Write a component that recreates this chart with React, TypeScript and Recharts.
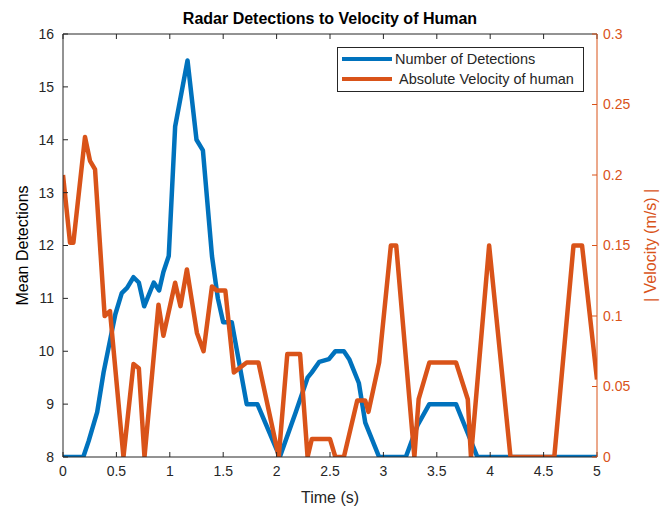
import { LineChart, Line, XAxis, YAxis, Legend, Label } from "recharts";

// mean detections per frame (left axis)
const detTime = [
  0, 0.19, 0.24, 0.32, 0.38, 0.44, 0.49, 0.55, 0.6, 0.66, 0.71, 0.76, 0.85,
  0.9, 0.94, 0.99, 1.05, 1.166, 1.25, 1.31, 1.395, 1.45, 1.5, 1.58, 1.72, 1.82,
  2.03, 2.18, 2.29, 2.33, 2.4, 2.49, 2.55, 2.63, 2.68, 2.77, 2.83, 2.96, 3.21,
  3.32, 3.43, 3.68, 3.88, 5,
];
const detMean = [
  8, 8, 8.3, 8.85, 9.6, 10.2, 10.7, 11.1, 11.2, 11.4, 11.3, 10.85, 11.3, 11.15,
  11.5, 11.8, 14.25, 15.5, 14.0, 13.8, 11.8, 11.0, 10.55, 10.55, 9.0, 9.0, 8,
  8.85, 9.5, 9.6, 9.8, 9.85, 10.0, 10.0, 9.85, 9.4, 8.65, 8, 8, 8.6, 9.0, 9.0,
  8, 8,
];

// |velocity| of the person (right axis)
const velTime = [
  0, 0.066, 0.097, 0.206, 0.253, 0.3, 0.39, 0.44, 0.566, 0.66, 0.71, 0.763,
  0.894, 0.94, 1.05, 1.1, 1.16, 1.254, 1.316, 1.395, 1.44, 1.52, 1.6, 1.72,
  1.83, 2.02, 2.1, 2.22, 2.29, 2.33, 2.5, 2.55, 2.63, 2.755, 2.83, 2.86, 2.96,
  3.07, 3.12, 3.29, 3.33, 3.43, 3.68, 3.79, 3.82, 3.99, 4.19, 4.6, 4.78, 4.86,
  5,
];
const velAbs = [
  0.2, 0.152, 0.152, 0.227, 0.21, 0.204, 0.1, 0.1035, 0, 0.066, 0.063, 0,
  0.108, 0.086, 0.1236, 0.107, 0.133, 0.088, 0.075, 0.121, 0.118, 0.118, 0.06,
  0.067, 0.067, 0, 0.073, 0.073, 0, 0.0127, 0.0127, 0, 0, 0.04, 0.04, 0.032,
  0.067, 0.15, 0.15, 0, 0.041, 0.067, 0.067, 0.041, 0, 0.15, 0, 0, 0.15, 0.15,
  0.055,
];

const seriesNames = ["Number of Detections", "Absolute Velocity of human"];
const timeTicks = [0, 0.5, 1, 1.5, 2, 2.5, 3, 3.5, 4, 4.5, 5];
const detTicks = [8, 9, 10, 11, 12, 13, 14, 15, 16];
const velTicks = [0, 0.05, 0.1, 0.15, 0.2, 0.25, 0.3];

const BLUE = "#0072BD";
const ORANGE = "#D95319";
const AXIS = "#262626";
const FONT = "'Liberation Sans', Arial, Helvetica, sans-serif";

const detData = detTime.map((t, i) => ({ t, mean: detMean[i] }));
const velData = velTime.map((t, i) => ({ t, speed: velAbs[i] }));

// boxed legend in plot order (recharts sorts entries by name otherwise)
const LegendBox = (props: any) => {
  const items = [...(props.payload || [])].sort(
    (a: any, b: any) => seriesNames.indexOf(a.value) - seriesNames.indexOf(b.value)
  );
  return (
    <div
      style={{
        border: `1px solid ${AXIS}`,
        background: "#fff",
        width: 245,
        padding: "1px 0 2px",
        fontFamily: FONT,
        fontSize: 14.5,
        color: AXIS,
      }}
    >
      {items.map((it: any, i: number) => (
        <div
          key={it.value}
          style={{ display: "flex", alignItems: "center", height: 20 }}
        >
          <div
            style={{
              width: 50,
              height: 4.5,
              background: it.color,
              marginLeft: 4,
              marginRight: i === 0 ? 3 : 7,
            }}
          />
          <span style={{ whiteSpace: "nowrap" }}>{it.value}</span>
        </div>
      ))}
    </div>
  );
};

export default function App() {
  return (
    <div style={{ position: "absolute", left: 0, top: 0, background: "#fff" }}>
      <LineChart
        width={665}
        height={509}
        margin={{ top: 33, right: 0, bottom: 0, left: 0 }}
        style={{ fontFamily: FONT }}
      >
        <XAxis
          xAxisId="bottom"
          dataKey="t"
          type="number"
          domain={[0, 5]}
          ticks={timeTicks}
          allowDataOverflow
          height={52}
          stroke={AXIS}
          tickSize={-5}
          tickMargin={14}
          tick={{ fill: AXIS, fontSize: 14, fontFamily: FONT }}
        >
          <Label
            value="Time (s)"
            position="center"
            dy={14}
            fill={AXIS}
            fontSize={16}
            fontFamily={FONT}
          />
        </XAxis>
        <XAxis
          xAxisId="top"
          orientation="top"
          dataKey="t"
          type="number"
          domain={[0, 5]}
          ticks={timeTicks}
          allowDataOverflow
          height={1}
          stroke={AXIS}
          tickSize={-5}
          tickFormatter={() => ""}
        >
          <Label
            value="Radar Detections to Velocity of Human"
            position="center"
            dy={-15}
            fill="#000"
            fontSize={16}
            fontWeight="bold"
            fontFamily={FONT}
          />
        </XAxis>
        <YAxis
          yAxisId="left"
          type="number"
          domain={[8, 16]}
          ticks={detTicks}
          allowDataOverflow
          width={63}
          stroke={AXIS}
          tickSize={-5}
          tickMargin={14}
          tick={{ fill: AXIS, fontSize: 14, fontFamily: FONT }}
        >
          <Label
            value="Mean Detections"
            position="center"
            angle={-90}
            dx={-9.5}
            fill="#000"
            fontSize={16}
            fontFamily={FONT}
          />
        </YAxis>
        <YAxis
          yAxisId="right"
          orientation="right"
          type="number"
          domain={[0, 0.3]}
          ticks={velTicks}
          allowDataOverflow
          width={68}
          stroke={ORANGE}
          tickSize={-5}
          tickMargin={11}
          tick={{ fill: ORANGE, fontSize: 14, fontFamily: FONT }}
        >
          <Label
            value="| Velocity (m/s) |"
            position="center"
            angle={-90}
            dx={19}
            fill={ORANGE}
            fontSize={16}
            fontFamily={FONT}
          />
        </YAxis>
        <Legend
          layout="horizontal"
          verticalAlign="middle"
          align="center"
          content={<LegendBox />}
          wrapperStyle={{ left: 337, top: 47, width: "auto", height: "auto" }}
        />
        <Line
          name={seriesNames[0]}
          data={detData}
          dataKey="mean"
          xAxisId="bottom"
          yAxisId="left"
          type="linear"
          stroke={BLUE}
          strokeWidth={4.5}
          strokeLinejoin="round"
          dot={false}
          activeDot={false}
          isAnimationActive={false}
        />
        <Line
          name={seriesNames[1]}
          data={velData}
          dataKey="speed"
          xAxisId="top"
          yAxisId="right"
          type="linear"
          stroke={ORANGE}
          strokeWidth={4.5}
          strokeLinejoin="round"
          dot={false}
          activeDot={false}
          isAnimationActive={false}
        />
      </LineChart>
    </div>
  );
}
